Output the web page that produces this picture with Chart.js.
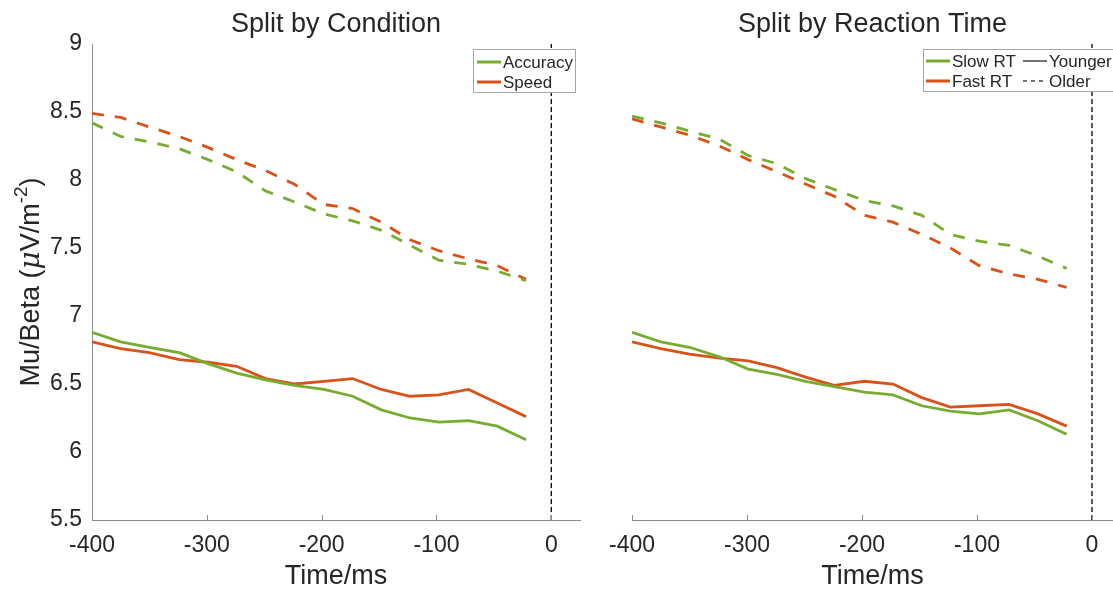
<!DOCTYPE html>
<html>
<head>
<meta charset="utf-8">
<script src="https://cdn.jsdelivr.net/npm/chart.js@4.4.1/dist/chart.umd.min.js"></script>
<style>
	body { margin: 0; background: #fff; }
	#wrap { position: relative; width: 1113px; height: 591px; overflow: hidden; }
	canvas { position: absolute; top: 0; }
</style>
</head>
<body>
<div id="wrap">
	<canvas id="conditionChart" width="600" height="591" style="left:0"></canvas>
	<canvas id="rtChart" width="513" height="591" style="left:600px"></canvas>
</div>
<script>
// time axis (ms before response)
const timePoints = [-400, -375, -350, -324, -299, -274, -249, -224, -198, -173, -148, -123, -98, -72, -47, -22];

// Split by condition
const accuracyYounger = [6.88, 6.81, 6.77, 6.73, 6.65, 6.58, 6.53, 6.49, 6.46, 6.41, 6.31, 6.25, 6.22, 6.23, 6.19, 6.09];
const speedYounger = [6.81, 6.76, 6.73, 6.68, 6.66, 6.63, 6.54, 6.50, 6.52, 6.54, 6.46, 6.41, 6.42, 6.46, 6.36, 6.26];
const accuracyOlder = [8.42, 8.32, 8.28, 8.23, 8.15, 8.06, 7.92, 7.84, 7.75, 7.70, 7.63, 7.52, 7.41, 7.38, 7.33, 7.26];
const speedOlder = [8.49, 8.46, 8.39, 8.32, 8.24, 8.15, 8.07, 7.97, 7.82, 7.79, 7.69, 7.56, 7.48, 7.42, 7.37, 7.27];

// Split by reaction time
const slowYounger = [6.88, 6.81, 6.77, 6.70, 6.61, 6.57, 6.52, 6.48, 6.44, 6.42, 6.34, 6.30, 6.28, 6.31, 6.23, 6.13];
const fastYounger = [6.81, 6.76, 6.72, 6.69, 6.67, 6.62, 6.55, 6.49, 6.52, 6.50, 6.40, 6.33, 6.34, 6.35, 6.28, 6.19];
const slowOlder = [8.47, 8.42, 8.36, 8.30, 8.18, 8.12, 8.01, 7.93, 7.85, 7.81, 7.74, 7.60, 7.55, 7.52, 7.44, 7.35];
const fastOlder = [8.45, 8.39, 8.33, 8.25, 8.15, 8.06, 7.97, 7.88, 7.74, 7.69, 7.60, 7.50, 7.37, 7.31, 7.27, 7.21];

const xTickValues = [-400, -300, -200, -100, 0];
const yTickValues = [5.5, 6, 6.5, 7, 7.5, 8, 8.5, 9];
const yTickLabels = ['5.5', '6', '6.5', '7', '7.5', '8', '8.5', '9'];

const conditionLabels = ['Accuracy', 'Speed'];
const rtLabels = ['Slow RT', 'Fast RT'];
const ageLabels = ['Younger', 'Older'];

const GREEN = '#77AC30';
const ORANGE = '#D95319';
const TEXT = '#262626';
const AXIS = '#8c8c8c';
const FONT = '"Liberation Sans", Arial, Helvetica, sans-serif';

Chart.defaults.font.family = FONT;
Chart.defaults.color = TEXT;

function toPoints(values) {
	return timePoints.map((t, i) => ({ x: t, y: values[i] }));
}

function seriesDataset(values, color, dashed) {
	return {
		data: toPoints(values),
		borderColor: color,
		borderWidth: 2.8,
		borderDash: dashed ? [12, 11] : [],
		pointRadius: 0,
		tension: 0
	};
}

// vertical marker at response time (x = 0)
function zeroLine() {
	return {
		data: [{ x: 0, y: yTickValues[0] }, { x: 0, y: yTickValues[yTickValues.length - 1] }],
		borderColor: '#000',
		borderWidth: 1.3,
		borderDash: [5, 3],
		pointRadius: 0
	};
}

// MATLAB style ticks pointing into the axes
const innerTicks = {
	id: 'innerTicks',
	afterDraw(chart) {
		const { ctx, scales: { x } } = chart;
		ctx.save();
		ctx.strokeStyle = AXIS;
		ctx.lineWidth = 1;
		x.ticks.forEach(t => {
			const px = Math.round(x.getPixelForValue(t.value)) + 0.5;
			ctx.beginPath();
			ctx.moveTo(px, x.top);
			ctx.lineTo(px, x.top - 5);
			ctx.stroke();
		});
		ctx.restore();
	}
};

// y label with italic mu and a real superscript, as in the TeX original
const yLabel = {
	id: 'yLabel',
	afterDraw(chart, _args, opts) {
		if (!opts || !opts.show) return;
		const { ctx, chartArea } = chart;
		const parts = [
			{ t: 'Mu/Beta (', f: '27px ' + FONT, dy: 0 },
			{ t: '\u03BC', f: 'italic 28px "DejaVu Serif", serif', dy: 0 },
			{ t: 'V/m', f: '27px ' + FONT, dy: 0 },
			{ t: '-2', f: '19px ' + FONT, dy: -10 },
			{ t: ')', f: '27px ' + FONT, dy: 0 }
		];
		ctx.save();
		let total = 0;
		parts.forEach(p => { ctx.font = p.f; p.w = ctx.measureText(p.t).width; total += p.w; });
		ctx.translate(opts.x, (chartArea.top + chartArea.bottom) / 2);
		ctx.rotate(-Math.PI / 2);
		ctx.fillStyle = TEXT;
		ctx.textBaseline = 'middle';
		let cx = -total / 2;
		parts.forEach(p => {
			ctx.font = p.f;
			ctx.fillText(p.t, cx, p.dy);
			cx += p.w;
		});
		ctx.restore();
	}
};

// boxed legend like the MATLAB one
const boxLegend = {
	id: 'boxLegend',
	afterDraw(chart, _args, opts) {
		if (!opts || !opts.items) return;
		const { ctx } = chart;
		const b = opts.box;
		ctx.save();
		ctx.fillStyle = '#fff';
		ctx.strokeStyle = '#a6a6a6';
		ctx.lineWidth = 1;
		ctx.fillRect(b.x, b.y, b.w, b.h);
		ctx.strokeRect(b.x + 0.5, b.y + 0.5, b.w, b.h);
		ctx.font = '17px ' + FONT;
		ctx.textBaseline = 'middle';
		opts.items.forEach(item => {
			ctx.beginPath();
			ctx.setLineDash(item.dash || []);
			ctx.strokeStyle = item.color;
			ctx.lineWidth = item.width;
			ctx.moveTo(item.x, item.y);
			ctx.lineTo(item.x + 24, item.y);
			ctx.stroke();
			ctx.setLineDash([]);
			ctx.fillStyle = TEXT;
			ctx.fillText(item.text, item.x + 26, item.y + 1);
		});
		ctx.restore();
	}
};

function buildOptions(title, xMax, showY, legendOpts, padding) {
	return {
		responsive: false,
		animation: false,
		events: [],
		layout: { padding },
		plugins: {
			legend: { display: false },
			tooltip: { enabled: false },
			title: {
				display: true,
				text: title,
				fullSize: false,
				color: TEXT,
				font: { size: 27, weight: 'normal' },
				padding: { top: 8, bottom: 3.6 }
			},
			boxLegend: legendOpts,
			yLabel: { show: showY, x: 32 }
		},
		scales: {
			x: {
				type: 'linear',
				min: -400,
				max: xMax,
				afterBuildTicks: s => { s.ticks = xTickValues.map(v => ({ value: v })); },
				afterFit: s => { s.height = 71; s.paddingLeft = 0; s.paddingRight = 0; },
				ticks: { font: { size: 23 }, color: TEXT, padding: 12, maxRotation: 0 },
				grid: { drawOnChartArea: false, drawTicks: false },
				border: { display: true, color: AXIS, width: 1 },
				title: {
					display: true,
					text: 'Time/ms',
					color: TEXT,
					font: { size: 27, lineHeight: 1.1 },
					padding: { top: 0, bottom: 0 }
				}
			},
			y: {
				type: 'linear',
				display: showY,
				min: 5.5,
				max: 9,
				afterBuildTicks: s => { s.ticks = yTickValues.map(v => ({ value: v })); },
				afterFit: s => { if (showY) s.width = 92; },
				ticks: {
					font: { size: 23 },
					color: TEXT,
					padding: 10,
					callback: v => yTickLabels[yTickValues.indexOf(v)]
				},
				grid: { drawOnChartArea: false, drawTicks: false },
				border: { display: true, color: AXIS, width: 1 }
			}
		}
	};
}

new Chart(document.getElementById('conditionChart'), {
	type: 'line',
	data: {
		datasets: [
			seriesDataset(accuracyOlder, GREEN, true),
			seriesDataset(speedOlder, ORANGE, true),
			seriesDataset(accuracyYounger, GREEN, false),
			seriesDataset(speedYounger, ORANGE, false),
			zeroLine()
		]
	},
	options: buildOptions('Split by Condition', 25, true, {
		box: { x: 473, y: 49, w: 102, h: 43 },
		items: [
			{ text: conditionLabels[0], color: GREEN, width: 3, x: 477, y: 62 },
			{ text: conditionLabels[1], color: ORANGE, width: 3, x: 477, y: 82 }
		]
	}, { left: 0, right: 20, top: 0, bottom: 0 }),
	plugins: [innerTicks, boxLegend, yLabel]
});

new Chart(document.getElementById('rtChart'), {
	type: 'line',
	data: {
		datasets: [
			seriesDataset(slowOlder, GREEN, true),
			seriesDataset(fastOlder, ORANGE, true),
			seriesDataset(slowYounger, GREEN, false),
			seriesDataset(fastYounger, ORANGE, false),
			zeroLine()
		]
	},
	options: buildOptions('Split by Reaction Time', 18.3, false, {
		box: { x: 323, y: 49, w: 200, h: 42 },
		items: [
			{ text: rtLabels[0], color: GREEN, width: 3, x: 326, y: 61 },
			{ text: rtLabels[1], color: ORANGE, width: 3, x: 326, y: 81 },
			{ text: ageLabels[0], color: '#262626', width: 1.3, x: 423, y: 61 },
			{ text: ageLabels[1], color: '#262626', width: 1.3, x: 423, y: 81, dash: [4, 4] }
		]
	}, { left: 32, right: 0, top: 0, bottom: 0 }),
	plugins: [innerTicks, boxLegend, yLabel]
});
</script>
</body>
</html>
